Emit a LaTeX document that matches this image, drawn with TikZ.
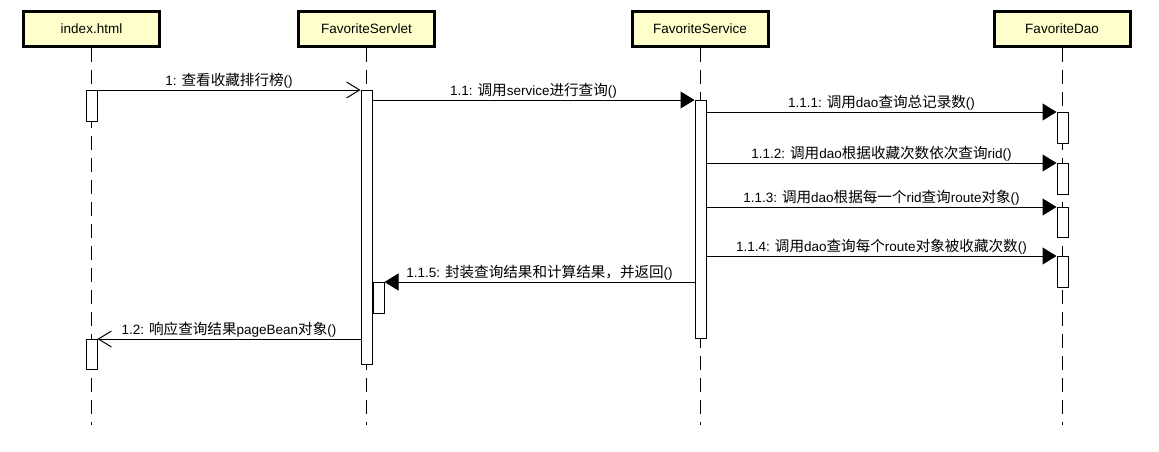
\documentclass[tikz,border=0pt]{standalone}
\usepackage{fontspec}
\setmainfont{Liberation Sans}
\newfontfamily\cjk{Noto Sans CJK SC}[Scale=1.08]
\usetikzlibrary{arrows.meta}
\definecolor{boxfill}{RGB}{255,255,204}
\newcommand\zh[1]{{\cjk #1}}
\begin{document}
\begin{tikzpicture}[x=1pt,y=-1pt,
  font=\fontsize{13.5}{16}\selectfont,
  actor/.style={draw, line width=3pt, fill=boxfill, minimum width=136pt, minimum height=35pt, inner sep=0pt},
  lifeline/.style={line width=1pt, dash pattern=on 14pt off 8pt},
  actbar/.style={draw, line width=1pt, fill=white, minimum width=11pt, inner sep=0pt, anchor=north},
  call/.style={line width=1pt, -{Triangle[length=14pt,width=17pt]}},
  async/.style={line width=1pt, -{Straight Barb[length=13pt,width=16pt,line width=1pt]}},
  lbl/.style={midway, above, inner sep=1.5pt}]
\useasboundingbox (0,0) rectangle (1159,452);
% actors
\node[actor] (idx) at (91.5,29) {index.html};
\node[actor] (svl) at (366.5,29) {FavoriteServlet};
\node[actor] (svc) at (700,29) {FavoriteService};
\node[actor] (dao) at (1062,29) {FavoriteDao};
% lifelines
\foreach \a in {idx,svl,svc,dao}
  \draw[lifeline] (\a.south) -- (\a.south |- 0,425);
% activation bars
\node[actbar, minimum height=31pt] (ib1) at (91.5,90) {};
\node[actbar, minimum height=30pt] (ib2) at (91.5,339) {};
\node[actbar, minimum height=274pt] (sb) at (366.5,90) {};
\node[actbar, minimum height=31pt] (nb) at (378.5,282) {};
\node[actbar, minimum height=238pt] (vb) at (700.5,100) {};
\node[actbar, minimum height=31pt] (d1) at (1062.5,112) {};
\node[actbar, minimum height=31pt] (d2) at (1062.5,163) {};
\node[actbar, minimum height=30pt] (d3) at (1062.5,207) {};
\node[actbar, minimum height=31pt] (d4) at (1062.5,256) {};
% messages
\draw[async] (ib1.north east) -- node[lbl] {1: \zh{查看收藏排行榜}()} (sb.north west);
\draw[call] (sb.east |- vb.north) -- node[lbl] {1.1: \zh{调用}service\zh{进行查询}()} (vb.north west);
\draw[call] (vb.east |- d1.north) -- node[lbl] {1.1.1: \zh{调用}dao\zh{查询总记录数}()} (d1.north west);
\draw[call] (vb.east |- d2.north) -- node[lbl] {1.1.2: \zh{调用}dao\zh{根据收藏次数依次查询}rid()} (d2.north west);
\draw[call] (vb.east |- d3.north) -- node[lbl] {1.1.3: \zh{调用}dao\zh{根据每一个}rid\zh{查询}route\zh{对象}()} (d3.north west);
\draw[call] (vb.east |- d4.north) -- node[lbl] {1.1.4: \zh{调用}dao\zh{查询每个}route\zh{对象被收藏次数}()} (d4.north west);
\draw[call] (vb.west |- nb.north) -- node[lbl] {1.1.5: \zh{封装查询结果和计算结果，并返回}()} (nb.north east);
\draw[async] (sb.west |- ib2.north) -- node[lbl] {1.2: \zh{响应查询结果}pageBean\zh{对象}()} (ib2.north east);
\end{tikzpicture}
\end{document}
